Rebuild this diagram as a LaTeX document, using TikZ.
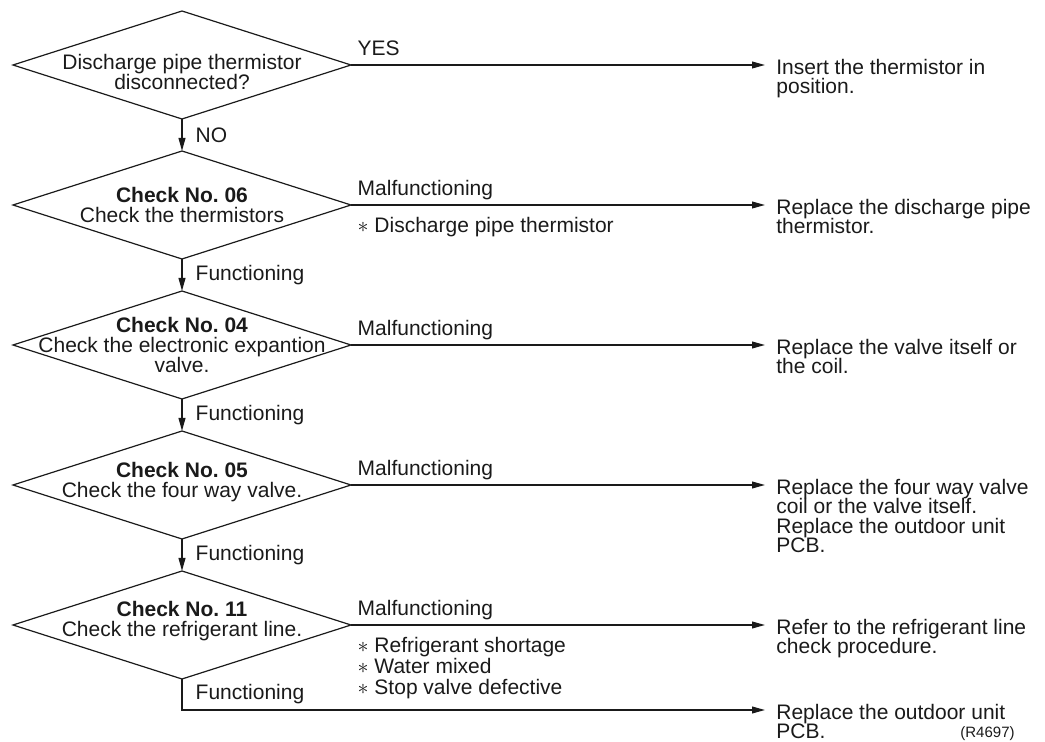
\documentclass[tikz,border=0pt]{standalone}
\usepackage{fontspec}
\setmainfont{Liberation Sans}
\usetikzlibrary{arrows.meta,positioning,shapes.geometric}
\definecolor{FlowInk}{HTML}{1A1A1A}
\newcommand{\flowfont}[1][10]{\fontsize{10.5}{#1}\selectfont\lineskiplimit=-6pt\relax\frenchspacing}
\tikzset{
  flowq/.style={
    diamond,
    draw=FlowInk,
    line width=.6pt,
    minimum width=169pt,
    minimum height=54pt,
    inner sep=0pt,
    outer sep=0pt
  },
  flowqtext/.style={
    align=center,
    inner sep=0pt,
    text=FlowInk,
    font=\flowfont[10.2]
  },
  flowout/.style={
    anchor=north west,
    yshift=3pt,
    align=left,
    inner sep=0pt,
    text=FlowInk,
    font=\flowfont[9.6]
  },
  flowtag/.style={pos=0,anchor=base west,xshift=3pt,yshift=4.5pt,inner sep=0pt,text=FlowInk,font=\flowfont},
  flownote/.style={pos=0,anchor=north west,xshift=3pt,yshift=-6pt,align=left,inner sep=0pt,text=FlowInk,font=\flowfont[10.5]},
  flowside/.style={anchor=west,xshift=6.5pt,inner sep=0pt,text=FlowInk,font=\flowfont},
  flowarrow/.style={-{Triangle[length=6.5pt,width=3.4pt]},line width=.7pt,draw=FlowInk},
  flowhit/.style={flowarrow,shorten >=5.5pt}
}
\begin{document}
\begin{tikzpicture}[node distance=16pt]
    \useasboundingbox (-91pt,32.5pt) rectangle (431.5pt,-338.5pt);
    \node[flowq,label={[flowqtext,yshift=-3.5pt]center:{Discharge pipe thermistor\\disconnected?}}] (qpipe) {};
    \node[flowq,below=of qpipe,label={[flowqtext]center:{\textbf{Check No. 06}\\Check the thermistors}}] (qtherm) {};
    \node[flowq,below=of qtherm,label={[flowqtext]center:{\textbf{Check No. 04}\\Check the electronic expantion\\valve.}}] (qexp) {};
    \node[flowq,below=of qexp,label={[flowqtext,yshift=1.5pt]center:{\textbf{Check No. 05}\\Check the four way valve.}}] (qfour) {};
    \node[flowq,below=of qfour,label={[flowqtext,yshift=2pt]center:{\textbf{Check No. 11}\\Check the refrigerant line.}}] (qref) {};
    \coordinate (txtcol) at ([xshift=212.5pt]qpipe.east);
    \coordinate (qlow) at ([yshift=-15.5pt]qref.south);
    \node[flowout] (rpipe) at (qpipe.east -| txtcol) {Insert the thermistor in\\position.};
    \node[flowout] (rtherm) at (qtherm.east -| txtcol) {Replace the discharge pipe\\thermistor.};
    \node[flowout] (rexp) at (qexp.east -| txtcol) {Replace the valve itself or\\the coil.};
    \node[flowout] (rfour) at (qfour.east -| txtcol) {Replace the four way valve\\coil or the valve itself.\\Replace the outdoor unit\\PCB.};
    \node[flowout] (rref) at (qref.east -| txtcol) {Refer to the refrigerant line\\check procedure.};
    \node[flowout] (rpcb) at (qlow -| txtcol) {Replace the outdoor unit\\PCB.};
    \node[anchor=base east,inner sep=0pt,text=FlowInk,font=\fontsize{7.5}{9}\selectfont] (figref) at (416.5pt,-336.5pt) {(R4697)};
    \draw[flowhit] (qpipe.east) -- node[flowtag]{YES} (qpipe.east -| rpipe.west);
    \draw[flowhit] (qtherm.east) -- node[flowtag]{Malfunctioning} node[flownote]{$\ast$ Discharge pipe thermistor} (qtherm.east -| rtherm.west);
    \draw[flowhit] (qexp.east) -- node[flowtag]{Malfunctioning} (qexp.east -| rexp.west);
    \draw[flowhit] (qfour.east) -- node[flowtag]{Malfunctioning} (qfour.east -| rfour.west);
    \draw[flowhit] (qref.east) -- node[flowtag]{Malfunctioning} node[flownote]{$\ast$ Refrigerant shortage\\$\ast$ Water mixed\\$\ast$ Stop valve defective} (qref.east -| rref.west);
    \draw[flowarrow] (qpipe) -- node[flowside]{NO} (qtherm);
    \draw[flowarrow] (qtherm) -- node[flowside]{Functioning} (qexp);
    \draw[flowarrow] (qexp) -- node[flowside]{Functioning} (qfour);
    \draw[flowarrow] (qfour) -- node[flowside]{Functioning} (qref);
    \draw[flowhit] (qref.south) |- node[flowside,pos=.25]{Functioning} (qlow -| rpcb.west);
  \end{tikzpicture}
\end{document}
